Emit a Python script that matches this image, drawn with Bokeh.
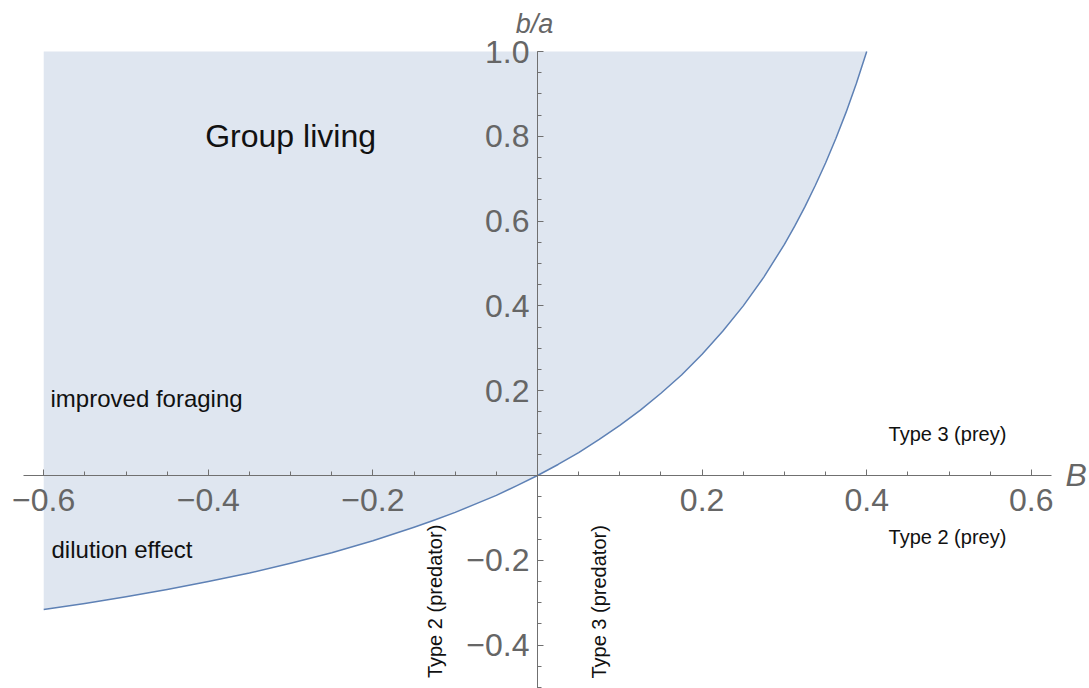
from bokeh.plotting import figure
from bokeh.models import Range1d, LinearAxis, FixedTicker, CustomJSTickFormatter, ColumnDataSource
from bokeh.core.properties import value
from bokeh.embed import file_html
from bokeh.resources import INLINE
import math

# ---- data ----
B_vals = [-0.6, -0.55, -0.5, -0.45, -0.4, -0.35, -0.3, -0.25, -0.2, -0.15, -0.125, -0.1, -0.075,
          -0.05, -0.025, 0.0, 0.025, 0.05, 0.075, 0.1, 0.125, 0.15, 0.175, 0.2, 0.225, 0.25,
          0.275, 0.3, 0.3125, 0.325, 0.3375, 0.35, 0.3625, 0.375, 0.3875, 0.4]
ba_vals = [-0.316, -0.302, -0.286, -0.269, -0.25, -0.23, -0.207, -0.182, -0.154, -0.122, -0.105,
           -0.087, -0.067, -0.047, -0.024, 0.0, 0.026, 0.054, 0.085, 0.118, 0.154, 0.194, 0.237,
           0.286, 0.34, 0.4, 0.468, 0.545, 0.588, 0.634, 0.684, 0.737, 0.795, 0.857, 0.925, 1.0]
region_top = 1.0

x_ticks = [-0.6, -0.4, -0.2, 0.2, 0.4, 0.6]
x_minor = [round(-0.6 + 0.05 * i, 2) for i in range(25)]
y_ticks = [-0.4, -0.2, 0.2, 0.4, 0.6, 0.8, 1.0]
y_minor = [round(-0.5 + 0.05 * i, 2) for i in range(31)]

big_label = ["Group living"]
big_x = [-0.300]
big_y = [0.800]

mid_labels = ["improved foraging", "dilution effect"]
mid_x = [-0.5917, -0.5905]
mid_y = [0.1816, -0.1745]

prey_labels = ["Type 3 (prey)", "Type 2 (prey)"]
prey_x = [0.4265, 0.4265]
prey_y = [0.099, -0.146]

pred_labels = ["Type 2 (predator)", "Type 3 (predator)"]
pred_x = [-0.1251, 0.0750]
pred_y = [-0.297, -0.298]

FONT = "Liberation Sans"
AX = "#707070"
LBL = "#666666"
LINE = "#5E81B5"
FILL = "#DFE6F0"

p = figure(width=1089, height=688,
           x_range=Range1d(-0.6525, 0.6707), y_range=Range1d(-0.5024, 1.1203),
           output_backend="svg", toolbar_location=None,
           x_axis_location=None, y_axis_location=None, min_border=0)
p.outline_line_color = None
p.background_fill_color = "white"
for g in p.grid:
    g.visible = False

src = ColumnDataSource(dict(B=B_vals, ba=ba_vals, top=[region_top] * len(B_vals)))
p.varea(x="B", y1="ba", y2="top", source=src, fill_color=FILL, fill_alpha=1.0)
p.line(x="B", y="ba", source=src, line_color=LINE, line_width=1.5, line_join="round")

fmt = CustomJSTickFormatter(code="""
return (tick < 0 ? "\\u2212" : "") + Math.abs(tick).toFixed(1);
""")

def style_axis(ax):
    ax.axis_line_color = AX
    ax.axis_line_width = 1
    ax.major_tick_line_color = AX
    ax.minor_tick_line_color = AX
    ax.major_tick_in = 6
    ax.major_tick_out = 0
    ax.minor_tick_in = 4
    ax.minor_tick_out = 0
    ax.major_label_text_font = FONT
    ax.major_label_text_font_size = "32px"
    ax.major_label_text_color = LBL

xaxis = LinearAxis(fixed_location=0, bounds=(-0.624, 0.624),
                   ticker=FixedTicker(ticks=x_ticks, minor_ticks=x_minor), formatter=fmt)
style_axis(xaxis)
xaxis.major_label_standoff = 14
p.add_layout(xaxis, "below")

yaxis = LinearAxis(fixed_location=0, bounds=(-0.52, 1.0),
                   ticker=FixedTicker(ticks=y_ticks, minor_ticks=y_minor), formatter=fmt)
style_axis(yaxis)
yaxis.major_label_standoff = 8
p.add_layout(yaxis, "left")

# axis names
p.text(x=[0.6416], y=[0.0], text=["B"], text_font=value(FONT), text_font_style="italic",
       text_font_size="32px", text_color=LBL, text_align="left", text_baseline="middle")
p.text(x=[-0.0036], y=[1.064], text=["b/a"], text_font=value(FONT), text_font_style="italic",
       text_font_size="27px", text_color=LBL, text_align="center", text_baseline="alphabetic")

# annotations
p.text(x=big_x, y=big_y, text=big_label, text_font=value(FONT), text_font_size="32px",
       text_color="#111111", text_align="center", text_baseline="alphabetic")
p.text(x=mid_x, y=mid_y, text=mid_labels, text_font=value(FONT), text_font_size="24px",
       text_color="#111111", text_align="left", text_baseline="alphabetic")
p.text(x=prey_x, y=prey_y, text=prey_labels, text_font=value(FONT), text_font_size="20px",
       text_color="#111111", text_align="left", text_baseline="alphabetic")
p.text(x=pred_x, y=pred_y, text=pred_labels, text_font=value(FONT), text_font_size="20px",
       text_color="#111111", text_align="center", text_baseline="alphabetic", angle=math.pi / 2)

open("out.html", "w").write(file_html(p, INLINE))
